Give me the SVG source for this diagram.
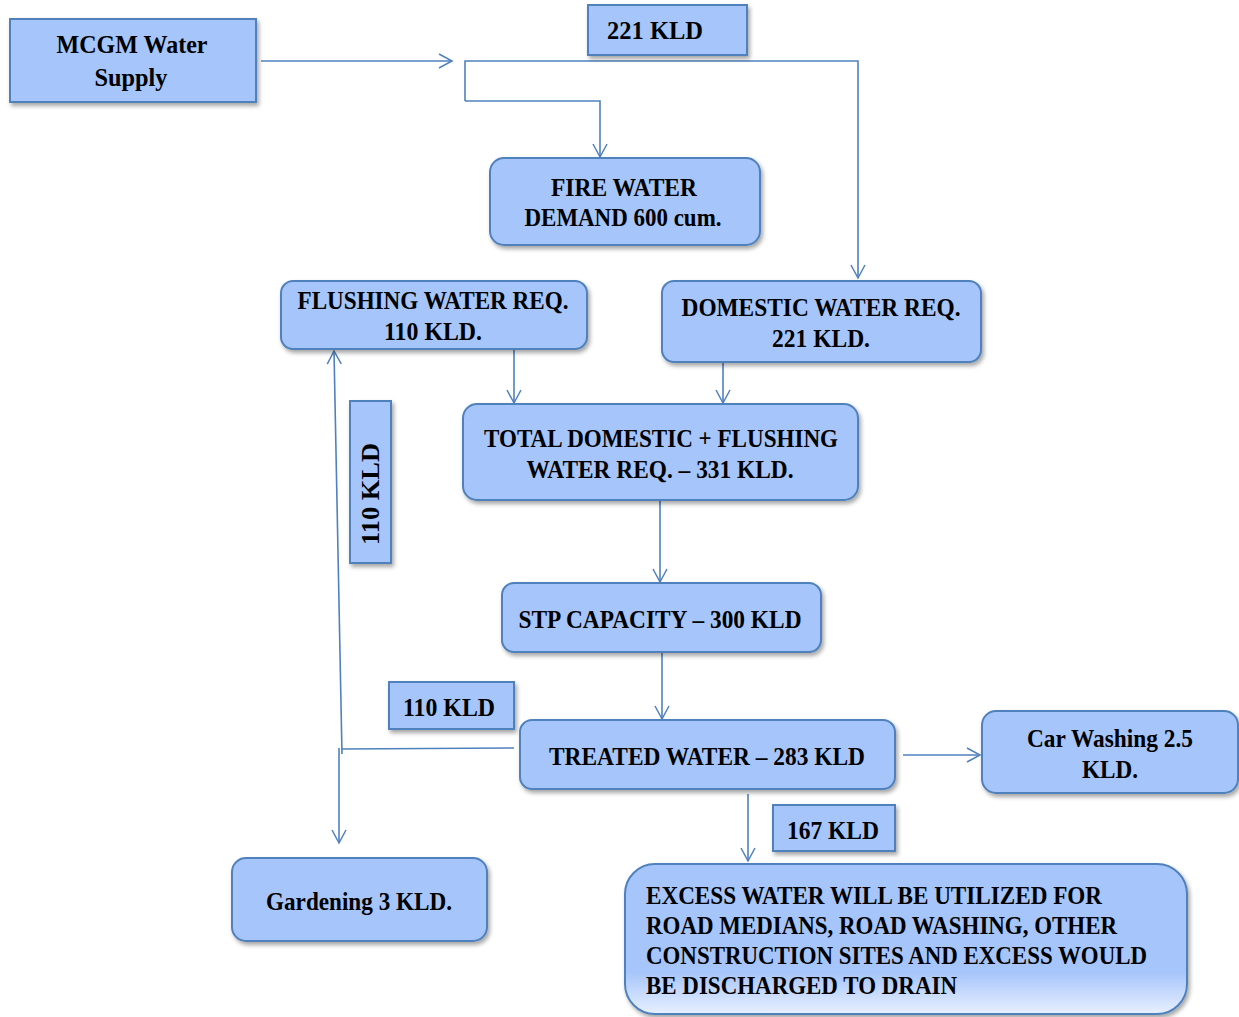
<svg xmlns="http://www.w3.org/2000/svg" width="1239" height="1017" viewBox="0 0 1239 1017">
<defs>
<filter id="sh" x="-10%" y="-10%" width="130%" height="140%">
<feDropShadow dx="2" dy="3" stdDeviation="2" flood-color="#000" flood-opacity="0.35"/>
</filter>
<linearGradient id="gx" x1="0" y1="0" x2="0" y2="1">
<stop offset="0" stop-color="#a6c5fb"/>
<stop offset="0.72" stop-color="#a6c5fb"/>
<stop offset="1" stop-color="#e8f0fe"/>
</linearGradient>
<marker id="ah" viewBox="0 0 16 16" refX="14" refY="8" markerWidth="16" markerHeight="16" markerUnits="userSpaceOnUse" orient="auto">
<path d="M1,1 L14,8 L1,15" fill="none" stroke="#4f81bd" stroke-width="1.5"/>
</marker>
</defs>
<style>
.bx{fill:#a6c5fb;stroke:#4f81bd;stroke-width:2;filter:url(#sh)}
.t{font-family:"Liberation Serif","Times New Roman",serif;font-weight:bold;font-size:26px;fill:#000}
.c{stroke:#4f81bd;stroke-width:1.6;fill:none}
</style>
<rect width="1239" height="1017" fill="#fff"/>
<g id="connectors">
<line class="c" x1="261" y1="61" x2="452" y2="61" marker-end="url(#ah)"/>
<polyline class="c" points="465,101 465,61 858,61 858,278" marker-end="url(#ah)"/>
<polyline class="c" points="465,101 600,101 600,157" marker-end="url(#ah)"/>
<line class="c" x1="514" y1="349" x2="514" y2="403" marker-end="url(#ah)"/>
<line class="c" x1="723" y1="363" x2="723" y2="403" marker-end="url(#ah)"/>
<line class="c" x1="660" y1="501" x2="660" y2="582" marker-end="url(#ah)"/>
<line class="c" x1="662" y1="653" x2="662" y2="719" marker-end="url(#ah)"/>
<line class="c" x1="514" y1="748" x2="342" y2="749"/>
<line class="c" x1="342" y1="754" x2="334" y2="351" marker-end="url(#ah)"/>
<line class="c" x1="339" y1="748" x2="339" y2="843" marker-end="url(#ah)"/>
<line class="c" x1="903" y1="755" x2="980" y2="755" marker-end="url(#ah)"/>
<line class="c" x1="748" y1="794" x2="748" y2="861" marker-end="url(#ah)"/>
</g>
<g id="mcgm">
<rect class="bx" x="10" y="19" width="246" height="83"/>
<text class="t" x="132" y="53" text-anchor="middle" textLength="151" lengthAdjust="spacingAndGlyphs">MCGM Water</text>
<text class="t" x="131" y="86" text-anchor="middle" textLength="73" lengthAdjust="spacingAndGlyphs">Supply</text>
</g>
<g id="lbl221">
<rect class="bx" x="588" y="5" width="159" height="50"/>
<text class="t" x="655" y="39" text-anchor="middle" textLength="96" lengthAdjust="spacingAndGlyphs">221 KLD</text>
</g>
<g id="fire">
<rect class="bx" x="490" y="158" width="270" height="87" rx="14"/>
<text class="t" x="624" y="196" text-anchor="middle" textLength="146" lengthAdjust="spacingAndGlyphs">FIRE WATER</text>
<text class="t" x="623" y="226" text-anchor="middle" textLength="197" lengthAdjust="spacingAndGlyphs">DEMAND 600 cum.</text>
</g>
<g id="flushing">
<rect class="bx" x="281" y="281" width="306" height="68" rx="12"/>
<text class="t" x="433" y="309" text-anchor="middle" textLength="271" lengthAdjust="spacingAndGlyphs">FLUSHING WATER REQ.</text>
<text class="t" x="433" y="340" text-anchor="middle" textLength="98" lengthAdjust="spacingAndGlyphs">110 KLD.</text>
</g>
<g id="domestic">
<rect class="bx" x="662" y="281" width="319" height="81" rx="12"/>
<text class="t" x="821" y="316" text-anchor="middle" textLength="279" lengthAdjust="spacingAndGlyphs">DOMESTIC WATER REQ.</text>
<text class="t" x="821" y="347" text-anchor="middle" textLength="98" lengthAdjust="spacingAndGlyphs">221 KLD.</text>
</g>
<g id="total">
<rect class="bx" x="463" y="404" width="395" height="96" rx="14"/>
<text class="t" x="661" y="447" text-anchor="middle" textLength="354" lengthAdjust="spacingAndGlyphs">TOTAL DOMESTIC + FLUSHING</text>
<text class="t" x="660" y="478" text-anchor="middle" textLength="267" lengthAdjust="spacingAndGlyphs">WATER REQ. – 331 KLD.</text>
</g>
<g id="lbl110v">
<rect class="bx" x="350" y="401" width="41" height="162"/>
<text class="t" transform="translate(379,494) rotate(-90)" text-anchor="middle" textLength="102" lengthAdjust="spacingAndGlyphs">110 KLD</text>
</g>
<g id="stp">
<rect class="bx" x="502" y="583" width="319" height="69" rx="12"/>
<text class="t" x="660" y="628" text-anchor="middle" textLength="283" lengthAdjust="spacingAndGlyphs">STP CAPACITY – 300 KLD</text>
</g>
<g id="lbl110">
<rect class="bx" x="389" y="682" width="125" height="47"/>
<text class="t" x="449" y="716" text-anchor="middle" textLength="92" lengthAdjust="spacingAndGlyphs">110 KLD</text>
</g>
<g id="treated">
<rect class="bx" x="520" y="720" width="375" height="69" rx="12"/>
<text class="t" x="707" y="765" text-anchor="middle" textLength="316" lengthAdjust="spacingAndGlyphs">TREATED WATER – 283 KLD</text>
</g>
<g id="carwash">
<rect class="bx" x="982" y="711" width="256" height="82" rx="14"/>
<text class="t" x="1110" y="747" text-anchor="middle" textLength="166" lengthAdjust="spacingAndGlyphs">Car Washing 2.5</text>
<text class="t" x="1110" y="778" text-anchor="middle" textLength="56" lengthAdjust="spacingAndGlyphs">KLD.</text>
</g>
<g id="lbl167">
<rect class="bx" x="773" y="805" width="122" height="46"/>
<text class="t" x="833" y="839" text-anchor="middle" textLength="92" lengthAdjust="spacingAndGlyphs">167 KLD</text>
</g>
<g id="gardening">
<rect class="bx" x="232" y="858" width="255" height="83" rx="14"/>
<text class="t" x="359" y="910" text-anchor="middle" textLength="186" lengthAdjust="spacingAndGlyphs">Gardening 3 KLD.</text>
</g>
<g id="excess">
<rect x="625" y="864" width="562" height="150" rx="30" fill="url(#gx)" stroke="#4f81bd" stroke-width="2" filter="url(#sh)"/>
<text class="t" x="646" y="904" textLength="456" lengthAdjust="spacingAndGlyphs">EXCESS WATER WILL BE UTILIZED FOR</text>
<text class="t" x="646" y="934" textLength="471" lengthAdjust="spacingAndGlyphs">ROAD MEDIANS, ROAD WASHING, OTHER</text>
<text class="t" x="646" y="964" textLength="501" lengthAdjust="spacingAndGlyphs">CONSTRUCTION SITES AND EXCESS WOULD</text>
<text class="t" x="646" y="994" textLength="311" lengthAdjust="spacingAndGlyphs">BE DISCHARGED TO DRAIN</text>
</g>
</svg>
